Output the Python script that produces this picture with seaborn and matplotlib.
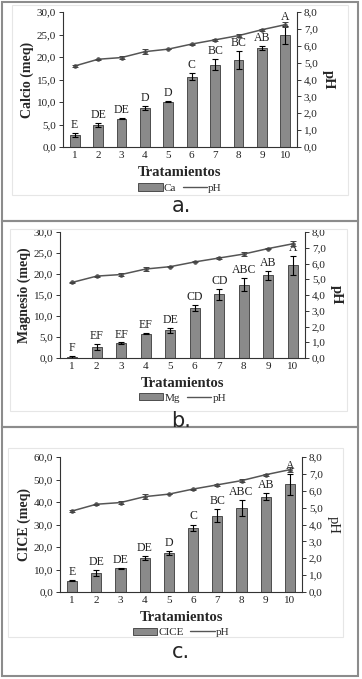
import numpy as np
import pandas as pd
import matplotlib
matplotlib.use('Agg')
import matplotlib.pyplot as plt
import matplotlib.patches as mpatches
from matplotlib.lines import Line2D
from matplotlib.ticker import FuncFormatter
import seaborn as sns

sns.set_style('white')
plt.rcParams['font.family'] = ['Liberation Serif', 'DejaVu Serif']

tratamientos = ['1', '2', '3', '4', '5', '6', '7', '8', '9', '10']

ph = [4.8, 5.2, 5.3, 5.65, 5.8, 6.1, 6.35, 6.6, 6.95, 7.25]
ph_err = [0.05, 0.03, 0.07, 0.15, 0.02, 0.03, 0.06, 0.1, 0.05, 0.15]

ca = [2.7, 4.9, 6.3, 8.7, 10.1, 15.6, 18.3, 19.3, 22.0, 25.0]
ca_err = [0.4, 0.5, 0.15, 0.4, 0.1, 0.8, 1.2, 2.0, 0.5, 2.0]
ca_letras = ['E', 'DE', 'DE', 'D', 'D', 'C', 'BC', 'BC', 'AB', 'A']

mg = [0.3, 2.6, 3.5, 5.8, 6.6, 12.0, 15.2, 17.5, 19.7, 22.1]
mg_err = [0.2, 0.8, 0.2, 0.15, 0.6, 0.7, 1.3, 1.6, 1.1, 2.3]
mg_letras = ['F', 'EF', 'EF', 'EF', 'DE', 'CD', 'CD', 'ABC', 'AB', 'A']

cice = [5.0, 8.6, 10.5, 15.2, 17.4, 28.5, 34.0, 37.3, 42.3, 47.8]
cice_err = [0.3, 1.3, 0.3, 0.8, 0.8, 1.5, 3.0, 3.5, 1.5, 4.5]
cice_letras = ['E', 'DE', 'DE', 'DE', 'D', 'C', 'BC', 'ABC', 'AB', 'A']

W, H = 362, 679
fig = plt.figure(figsize=(W / 100, H / 100), dpi=100)

coma = FuncFormatter(lambda v, p: f'{v:.1f}'.replace('.', ','))


def rect(x0, y0, x1, y1, color, lw):
    fig.patches.append(mpatches.Rectangle(
        (x0 / W, 1 - y1 / H), (x1 - x0) / W, (y1 - y0) / H,
        transform=fig.transFigure, fill=False, edgecolor=color, linewidth=lw))


def panel(box, vals, errs, letras, ylabel, ymax, ystep, nombre, etiqueta,
          ety, leg_y, ph_bold=True):
    x0, y0, x1, y1 = box
    ax = fig.add_axes([x0 / W, 1 - y1 / H, (x1 - x0) / W, (y1 - y0) / H])
    df = pd.DataFrame({'trat': tratamientos, 'val': vals})
    sns.barplot(data=df, x='trat', y='val', ax=ax, color='#8a8a8a',
                edgecolor='#3a3a3a', linewidth=0.6, width=0.42,
                saturation=1, errorbar=None)
    ax.errorbar(np.arange(10), vals, yerr=errs, fmt='none', ecolor='black',
                elinewidth=0.8, capsize=2, capthick=0.8)
    for i, (v, e, t) in enumerate(zip(vals, errs, letras)):
        ax.text(i, v + e + ymax * 0.015, t, ha='center', va='bottom',
                fontsize=8.5, color='#222222')
    ax.set_ylim(0, ymax)
    ax.set_yticks(np.arange(0, ymax + 0.01, ystep))
    ax.yaxis.set_major_formatter(coma)
    ax.set_xlim(-0.5, 9.5)
    ax.set_xlabel('Tratamientos', fontsize=10.5, fontweight='bold', labelpad=4)
    ax.set_ylabel(ylabel, fontsize=10, fontweight='bold', labelpad=2)
    ax.tick_params(axis='both', labelsize=8, length=3, width=0.7,
                   pad=2, colors='#333333')
    ax.tick_params(axis='both', labelcolor='#222222')
    ax.tick_params(axis='x', length=0, pad=3)
    for s in ['left', 'bottom']:
        ax.spines[s].set_color('#333333')
        ax.spines[s].set_linewidth(0.8)
    ax.spines['top'].set_visible(False)
    ax.spines['right'].set_visible(False)

    ax2 = ax.twinx()
    dph = pd.DataFrame({'x': np.arange(10), 'ph': ph})
    sns.lineplot(data=dph, x='x', y='ph', ax=ax2, color='#555555',
                 linewidth=1.1, marker='o', markersize=2.5,
                 markeredgecolor='#555555')
    ax2.errorbar(np.arange(10), ph, yerr=ph_err, fmt='none', ecolor='#444444',
                 elinewidth=0.7, capsize=2, capthick=0.7)
    ax2.set_ylim(0, 8)
    ax2.set_yticks(np.arange(0, 8.01, 1))
    ax2.yaxis.set_major_formatter(coma)
    ax2.set_xlim(-0.5, 9.5)
    ax2.set_xlabel('')
    ax2.set_ylabel('pH', fontsize=10.5,
                   fontweight='bold' if ph_bold else 'normal',
                   rotation=270, labelpad=12)
    ax2.tick_params(axis='y', labelsize=8, length=3, width=0.7, pad=2,
                    colors='#333333', labelcolor='#222222')
    ax2.spines['right'].set_color('#333333')
    ax2.spines['right'].set_linewidth(0.8)
    for s in ['left', 'top', 'bottom']:
        ax2.spines[s].set_visible(False)

    handles = [mpatches.Patch(facecolor='#8a8a8a', edgecolor='#3a3a3a',
                              linewidth=0.6, label=nombre),
               Line2D([0], [0], color='#555555', linewidth=1.0, label='pH')]
    ax.legend(handles=handles, loc='upper center', ncol=2, frameon=False,
              bbox_to_anchor=(0.5, -leg_y), fontsize=8, handlelength=2.2,
              handleheight=0.6, handletextpad=0.1, columnspacing=0.6,
              borderaxespad=0, borderpad=0)
    fig.text(0.5, 1 - ety / H, etiqueta, ha='center', va='center',
             fontsize=15, family='DejaVu Sans')


# panel frames and chart areas
rect(2, 2, 358, 221, '#8c8c8c', 1.5)
rect(2, 221, 358, 427, '#8c8c8c', 1.5)
rect(2, 427, 358, 676, '#8c8c8c', 1.5)
rect(12, 5, 348, 195, '#e6e6e6', 0.8)
rect(10, 229, 347, 411, '#e6e6e6', 0.8)
rect(8, 448, 343, 637, '#e6e6e6', 0.8)

panel((63, 12, 297, 147), ca, ca_err, ca_letras, 'Calcio (meq)', 30, 5,
      'Ca', 'a.', 206, 0.27)
panel((60, 232, 305, 358), mg, mg_err, mg_letras, 'Magnesio (meq)', 30, 5,
      'Mg', 'b.', 421, 0.28)
panel((60, 457, 302, 592), cice, cice_err, cice_letras, 'CICE (meq)', 60, 10,
      'CICE', 'c.', 652, 0.265, ph_bold=False)

plt.savefig('out.png', dpi=100)
